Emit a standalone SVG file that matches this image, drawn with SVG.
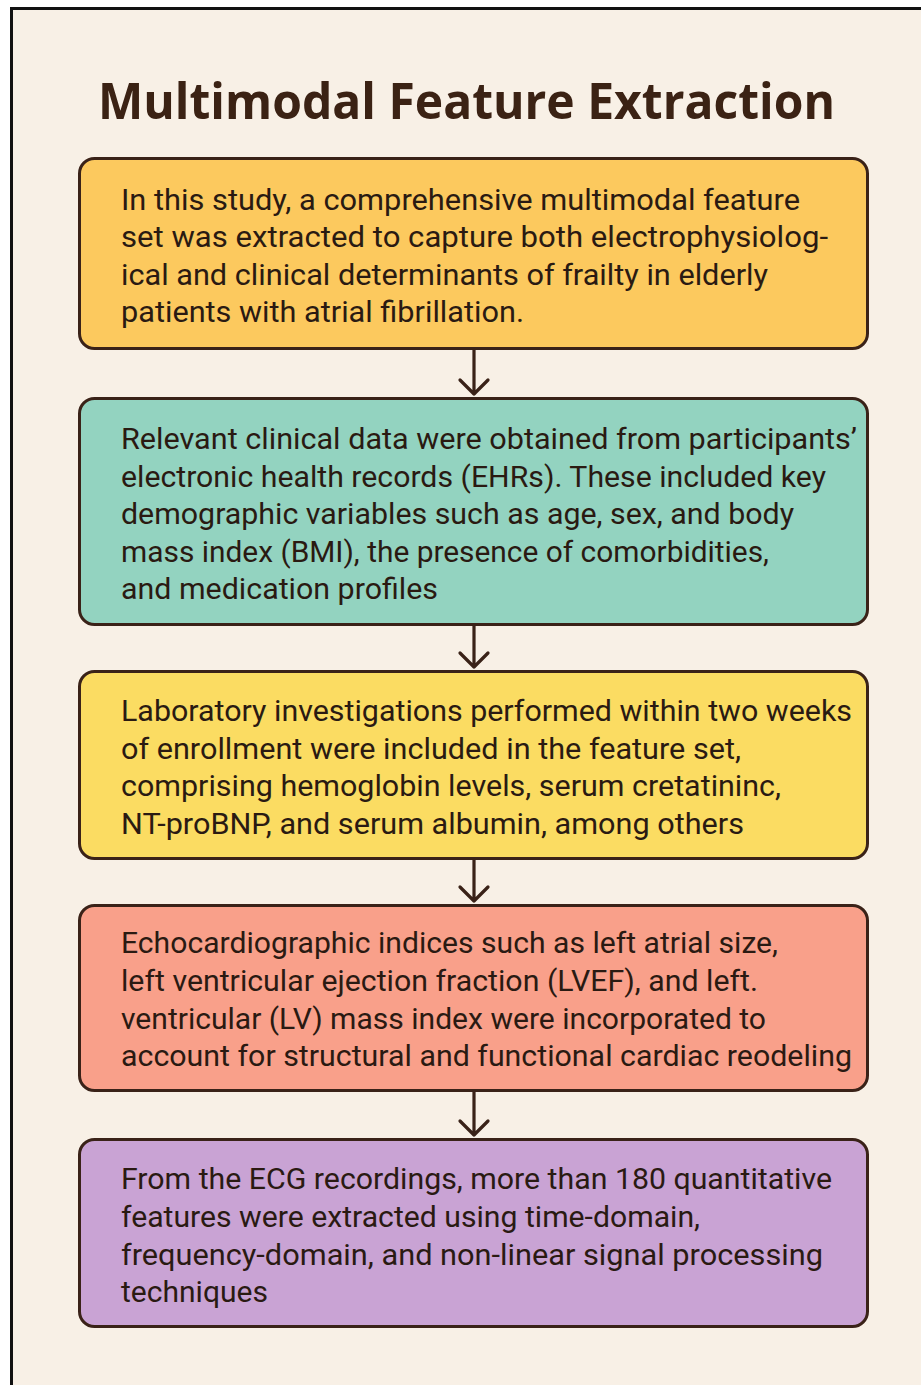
<svg xmlns="http://www.w3.org/2000/svg" width="921" height="1385" viewBox="0 0 921 1385">
<style>
.box{stroke:#3a2218;stroke-width:3}
.t{font-family:Roboto,"Noto Sans",sans-serif;font-size:30px;fill:#2a1a12}
.title{font-family:"Open Sans","Noto Sans",sans-serif;font-weight:bold;font-size:50px;fill:#3b2214}
.arrow{stroke:#3a2218;stroke-width:3.2;fill:none;stroke-linecap:round;stroke-linejoin:round}
</style>
<rect x="0" y="0" width="921" height="1385" fill="#ffffff"/>
<rect x="11" y="8" width="910" height="1377" fill="#f8f0e6"/>
<path d="M11.5 1385 V8.5 H921" fill="none" stroke="#111" stroke-width="3"/>
<text class="title" x="98" y="119" textLength="737" lengthAdjust="spacingAndGlyphs">Multimodal Feature Extraction</text>
<g id="box1">
<rect class="box" x="79.5" y="158.5" width="788" height="190" rx="15" fill="#fcc95e"/>
<text class="t" x="121" y="209.5" textLength="679" lengthAdjust="spacingAndGlyphs">In this study, a comprehensive multimodal feature</text>
<text class="t" x="121" y="247" textLength="707" lengthAdjust="spacingAndGlyphs">set was extracted to capture both electrophysiolog-</text>
<text class="t" x="121" y="284.5" textLength="647" lengthAdjust="spacingAndGlyphs">ical and clinical determinants of frailty in elderly</text>
<text class="t" x="121" y="322" textLength="403" lengthAdjust="spacingAndGlyphs">patients with atrial fibrillation.</text>
</g>
<g id="box2">
<rect class="box" x="79.5" y="398.5" width="788" height="226" rx="15" fill="#93d3c0"/>
<text class="t" x="121" y="448.5" textLength="736" lengthAdjust="spacingAndGlyphs">Relevant clinical data were obtained from participants’</text>
<text class="t" x="121" y="486.5" textLength="705" lengthAdjust="spacingAndGlyphs">electronic health records (EHRs). These included key</text>
<text class="t" x="121" y="524" textLength="673" lengthAdjust="spacingAndGlyphs">demographic variables such as age, sex, and body</text>
<text class="t" x="121" y="561.5" textLength="648" lengthAdjust="spacingAndGlyphs">mass index (BMI), the presence of comorbidities,</text>
<text class="t" x="121" y="599" textLength="317" lengthAdjust="spacingAndGlyphs">and medication profiles</text>
</g>
<g id="box3">
<rect class="box" x="79.5" y="671.5" width="788" height="187" rx="15" fill="#fbdc62"/>
<text class="t" x="121" y="720.5" textLength="731" lengthAdjust="spacingAndGlyphs">Laboratory investigations performed within two weeks</text>
<text class="t" x="121" y="758.5" textLength="620" lengthAdjust="spacingAndGlyphs">of enrollment were included in the feature set,</text>
<text class="t" x="121" y="796" textLength="660" lengthAdjust="spacingAndGlyphs">comprising hemoglobin levels, serum cretatininc,</text>
<text class="t" x="121" y="833.5" textLength="623" lengthAdjust="spacingAndGlyphs">NT-proBNP, and serum albumin, among others</text>
</g>
<g id="box4">
<rect class="box" x="79.5" y="905.5" width="788" height="185" rx="15" fill="#f9a08a"/>
<text class="t" x="121" y="952.5" textLength="657" lengthAdjust="spacingAndGlyphs">Echocardiographic indices such as left atrial size,</text>
<text class="t" x="121" y="990.5" textLength="637" lengthAdjust="spacingAndGlyphs">left ventricular ejection fraction (LVEF), and left.</text>
<text class="t" x="121" y="1028.5" textLength="645" lengthAdjust="spacingAndGlyphs">ventricular (LV) mass index were incorporated to</text>
<text class="t" x="121" y="1066" textLength="731" lengthAdjust="spacingAndGlyphs">account for structural and functional cardiac reodeling</text>
</g>
<g id="box5">
<rect class="box" x="79.5" y="1139.5" width="788" height="187" rx="15" fill="#c9a3d4"/>
<text class="t" x="121" y="1188.5" textLength="711" lengthAdjust="spacingAndGlyphs">From the ECG recordings, more than 180 quantitative</text>
<text class="t" x="121" y="1226.5" textLength="579" lengthAdjust="spacingAndGlyphs">features were extracted using time-domain,</text>
<text class="t" x="121" y="1264.5" textLength="702" lengthAdjust="spacingAndGlyphs">frequency-domain, and non-linear signal processing</text>
<text class="t" x="121" y="1302" textLength="147" lengthAdjust="spacingAndGlyphs">techniques</text>
</g>
<g id="connectors">
<path class="arrow" d="M474 350 V394 M460 380 L474 394 L488 380"/>
<path class="arrow" d="M474 626 V667 M460 653 L474 667 L488 653"/>
<path class="arrow" d="M474 860 V901 M460 887 L474 901 L488 887"/>
<path class="arrow" d="M474 1092 V1135 M460 1121 L474 1135 L488 1121"/>
</g>
</svg>
